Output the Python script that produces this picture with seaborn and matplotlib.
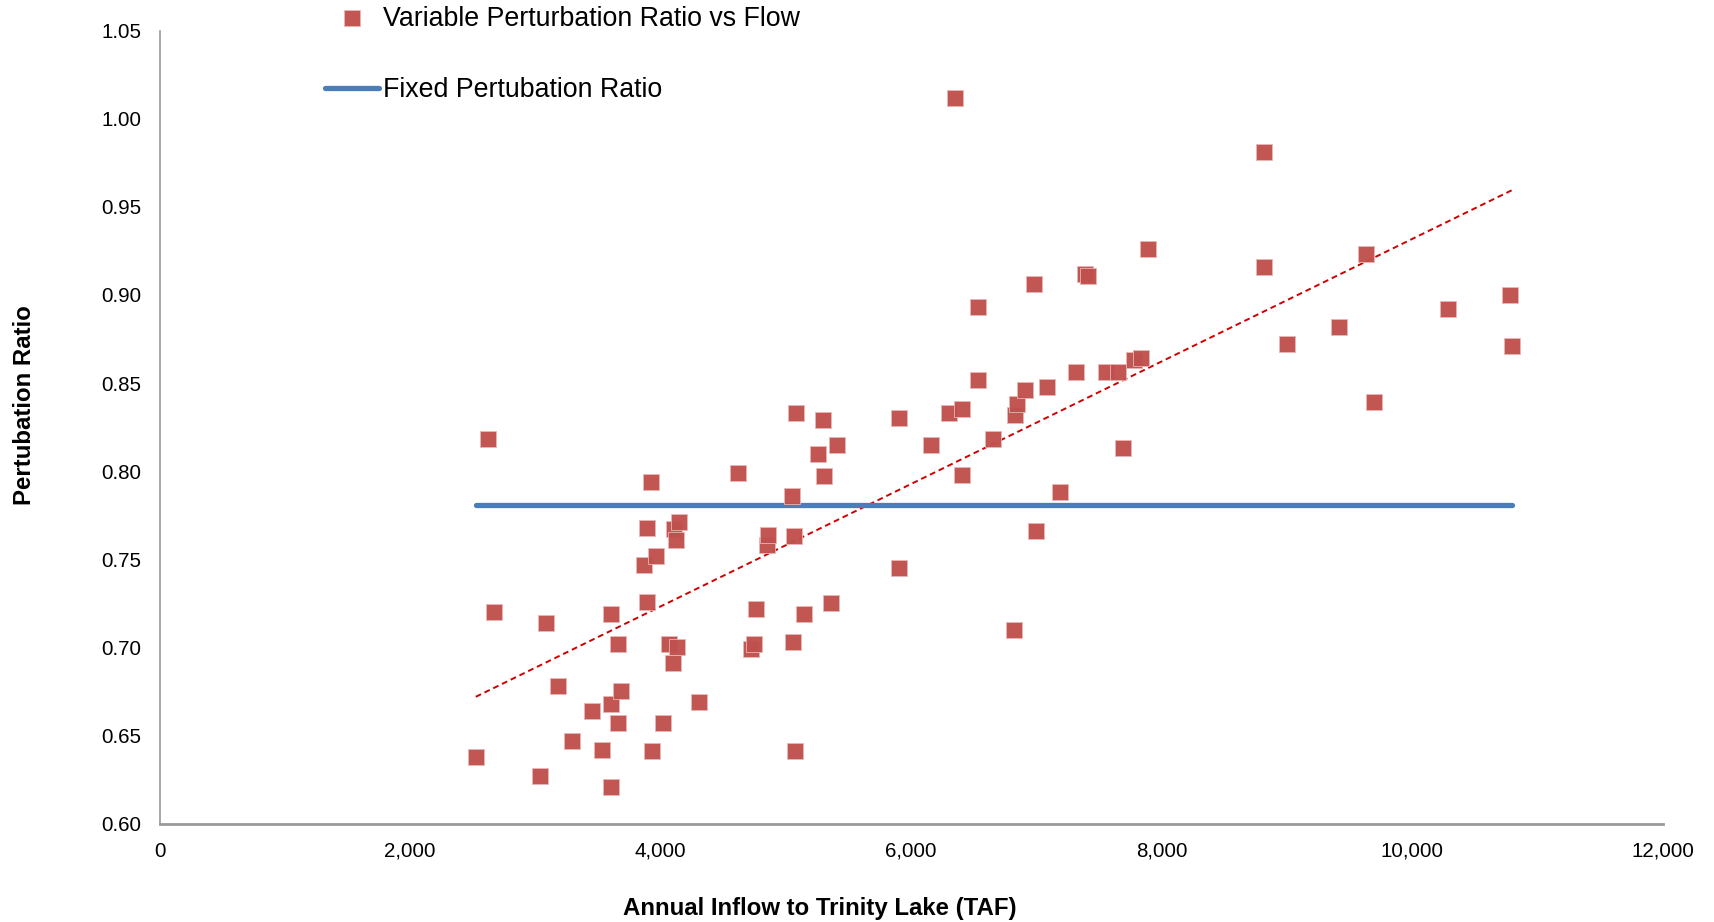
import matplotlib
matplotlib.use('Agg')
import matplotlib.pyplot as plt
import matplotlib.ticker as mticker
import numpy as np
import pandas as pd
import seaborn as sns

# Annual inflow to Trinity Lake (TAF) and perturbation ratio
inflow = [2524, 2620, 2672, 3039, 3083, 3179, 3293, 3450, 3528, 3607,
          3607, 3607, 3659, 3659, 3686, 3869, 3895, 3895, 3921, 3930,
          3965, 4017, 4070, 4096, 4105, 4122, 4131, 4148, 4306, 4620,
          4725, 4742, 4760, 4847, 4856, 5048, 5057, 5066, 5074, 5083,
          5144, 5258, 5293, 5301, 5362, 5406, 5904, 5904, 6157, 6306,
          6349, 6410, 6410, 6533, 6533, 6655, 6821, 6830, 6847, 6908,
          6978, 6996, 7083, 7188, 7319, 7389, 7415, 7555, 7651, 7694,
          7782, 7834, 7895, 8821, 8821, 9004, 9415, 9633, 9694, 10288,
          10786, 10795]
ratio = [0.638, 0.818, 0.720, 0.627, 0.714, 0.678, 0.647, 0.664, 0.642, 0.621,
         0.719, 0.668, 0.702, 0.657, 0.675, 0.747, 0.768, 0.726, 0.794, 0.641,
         0.752, 0.657, 0.702, 0.691, 0.767, 0.761, 0.700, 0.771, 0.669, 0.799,
         0.699, 0.702, 0.722, 0.758, 0.764, 0.786, 0.703, 0.763, 0.641, 0.833,
         0.719, 0.810, 0.829, 0.797, 0.725, 0.815, 0.745, 0.830, 0.815, 0.833,
         1.012, 0.835, 0.798, 0.893, 0.852, 0.818, 0.710, 0.832, 0.838, 0.846,
         0.906, 0.766, 0.848, 0.788, 0.856, 0.912, 0.911, 0.856, 0.856, 0.813,
         0.863, 0.864, 0.926, 0.981, 0.916, 0.872, 0.882, 0.923, 0.839, 0.892,
         0.900, 0.871]
fixed_ratio = 0.781

df = pd.DataFrame({'inflow': inflow, 'ratio': ratio})
fixed = pd.DataFrame({'inflow': [min(inflow), max(inflow)],
                      'ratio': [fixed_ratio, fixed_ratio]})

sns.set_style('white')
plt.rcParams['font.family'] = ['Liberation Sans', 'DejaVu Sans']
plt.rcParams['text.color'] = 'black'
plt.rcParams['axes.labelcolor'] = 'black'

fig = plt.figure(figsize=(17.15, 9.22), dpi=100)
ax = fig.add_axes([0.0931, 0.1067, 0.8763, 0.8601])

# linear trendline through the scatter
sns.regplot(data=df, x='inflow', y='ratio', ax=ax, scatter=False, ci=None,
            line_kws=dict(color='#D00000', lw=1.4, ls=(0, (3, 2))))
sns.lineplot(data=fixed, x='inflow', y='ratio', ax=ax, color='#4A7EBB', lw=3.8,
             solid_capstyle='round', label='Fixed Pertubation Ratio', legend=False)
sns.scatterplot(data=df, x='inflow', y='ratio', ax=ax, marker='s', s=120,
                color='#C0504D', edgecolor='#E8B8B6', linewidth=0.6, alpha=0.97,
                label='Variable Perturbation Ratio vs Flow', legend=False, zorder=3)

ax.set_xlim(0, 12000)
ax.set_ylim(0.60, 1.05)
ax.xaxis.set_major_locator(mticker.MultipleLocator(2000))
ax.yaxis.set_major_locator(mticker.MultipleLocator(0.05))
ax.xaxis.set_major_formatter(mticker.StrMethodFormatter('{x:,.0f}'))
ax.yaxis.set_major_formatter(mticker.StrMethodFormatter('{x:.2f}'))
ax.tick_params(axis='both', labelsize=14.8, labelcolor='black', length=5, width=1,
               direction='out', pad=8, color='#999999')
for side in ['top', 'right']:
    ax.spines[side].set_visible(False)
for side in ['left', 'bottom']:
    ax.spines[side].set_color('#999999')
    ax.spines[side].set_linewidth(1.2)
ax.spines['bottom'].set_linewidth(2)

ax.set_xlabel('Annual Inflow to Trinity Lake (TAF)', fontsize=17.3, fontweight='bold')
ax.xaxis.set_label_coords(0.4394, -0.093)
ax.set_ylabel('Pertubation Ratio', fontsize=17.3, fontweight='bold')
ax.yaxis.set_label_coords(-0.0825, 0.528)

handles, labels = ax.get_legend_handles_labels()
order = [labels.index('Variable Perturbation Ratio vs Flow'),
         labels.index('Fixed Pertubation Ratio')]
fig.legend([handles[i] for i in order], [labels[i] for i in order],
           loc='upper left', bbox_to_anchor=(0.1895, 0.994), frameon=False,
           fontsize=19.3, handlelength=2.0, handletextpad=0.15, labelspacing=1.7,
           borderpad=0, borderaxespad=0, labelcolor='black')

fig.savefig('out.png', dpi=100)
plt.close(fig)
